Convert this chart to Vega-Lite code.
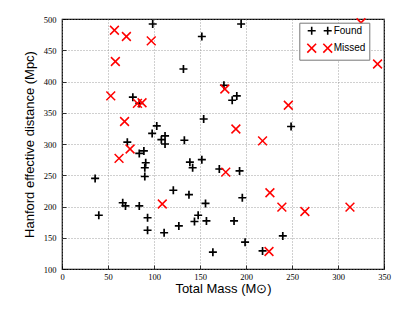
{
  "$schema": "https://vega.github.io/schema/vega-lite/v6.json",
  "autosize": "none",
  "padding": {"left": 62, "top": 19, "right": 31, "bottom": 43},
  "width": 322,
  "height": 250,
  "background": "white",
  "config": {
    "view": {"stroke": "#000", "strokeWidth": 1.2},
    "axis": {
      "domain": false,
      "grid": true,
      "gridColor": "#888",
      "gridDash": [1, 2],
      "gridWidth": 0.8,
      "ticks": true,
      "tickColor": "#000",
      "tickSize": -4,
      "tickWidth": 0.8,
      "labelFont": "Liberation Serif",
      "labelFontSize": 8.5,
      "labelColor": "#000",
      "titleFont": "Liberation Sans",
      "titleFontSize": 13,
      "titleFontWeight": "normal",
      "titleColor": "#000"
    }
  },
  "data": {
    "values": [
      {"mass": 98.6, "dist": 492, "status": "Found"},
      {"mass": 194.7, "dist": 492, "status": "Found"},
      {"mass": 152, "dist": 472, "status": "Found"},
      {"mass": 132, "dist": 420, "status": "Found"},
      {"mass": 77, "dist": 375, "status": "Found"},
      {"mass": 84, "dist": 365, "status": "Found"},
      {"mass": 154, "dist": 340, "status": "Found"},
      {"mass": 103, "dist": 329, "status": "Found"},
      {"mass": 98, "dist": 317, "status": "Found"},
      {"mass": 112, "dist": 313, "status": "Found"},
      {"mass": 108, "dist": 307, "status": "Found"},
      {"mass": 112, "dist": 300, "status": "Found"},
      {"mass": 133, "dist": 306, "status": "Found"},
      {"mass": 71, "dist": 303, "status": "Found"},
      {"mass": 84, "dist": 285, "status": "Found"},
      {"mass": 89, "dist": 289, "status": "Found"},
      {"mass": 91, "dist": 270, "status": "Found"},
      {"mass": 90, "dist": 262, "status": "Found"},
      {"mass": 90, "dist": 248, "status": "Found"},
      {"mass": 36, "dist": 245, "status": "Found"},
      {"mass": 40, "dist": 186, "status": "Found"},
      {"mass": 139, "dist": 271, "status": "Found"},
      {"mass": 142, "dist": 262, "status": "Found"},
      {"mass": 152, "dist": 275, "status": "Found"},
      {"mass": 171, "dist": 260, "status": "Found"},
      {"mass": 193, "dist": 257, "status": "Found"},
      {"mass": 121, "dist": 226, "status": "Found"},
      {"mass": 138, "dist": 219, "status": "Found"},
      {"mass": 156, "dist": 205, "status": "Found"},
      {"mass": 66, "dist": 206, "status": "Found"},
      {"mass": 69, "dist": 201, "status": "Found"},
      {"mass": 84, "dist": 201, "status": "Found"},
      {"mass": 93, "dist": 182, "status": "Found"},
      {"mass": 93, "dist": 162, "status": "Found"},
      {"mass": 111, "dist": 158, "status": "Found"},
      {"mass": 127, "dist": 169, "status": "Found"},
      {"mass": 144, "dist": 176, "status": "Found"},
      {"mass": 148, "dist": 186, "status": "Found"},
      {"mass": 157, "dist": 177, "status": "Found"},
      {"mass": 187, "dist": 177, "status": "Found"},
      {"mass": 196, "dist": 214, "status": "Found"},
      {"mass": 164, "dist": 127, "status": "Found"},
      {"mass": 199, "dist": 143, "status": "Found"},
      {"mass": 218, "dist": 129, "status": "Found"},
      {"mass": 240, "dist": 153, "status": "Found"},
      {"mass": 176, "dist": 394, "status": "Found"},
      {"mass": 185, "dist": 370, "status": "Found"},
      {"mass": 190, "dist": 377, "status": "Found"},
      {"mass": 249, "dist": 328, "status": "Found"},
      {"mass": 57, "dist": 482, "status": "Missed"},
      {"mass": 70, "dist": 472, "status": "Missed"},
      {"mass": 97, "dist": 465, "status": "Missed"},
      {"mass": 58, "dist": 432, "status": "Missed"},
      {"mass": 53, "dist": 377, "status": "Missed"},
      {"mass": 82, "dist": 365, "status": "Missed"},
      {"mass": 87, "dist": 366, "status": "Missed"},
      {"mass": 68, "dist": 336, "status": "Missed"},
      {"mass": 74, "dist": 292, "status": "Missed"},
      {"mass": 62, "dist": 277, "status": "Missed"},
      {"mass": 109, "dist": 204, "status": "Missed"},
      {"mass": 177, "dist": 388, "status": "Missed"},
      {"mass": 246, "dist": 362, "status": "Missed"},
      {"mass": 189, "dist": 324, "status": "Missed"},
      {"mass": 218, "dist": 305, "status": "Missed"},
      {"mass": 178, "dist": 255, "status": "Missed"},
      {"mass": 226, "dist": 222, "status": "Missed"},
      {"mass": 239, "dist": 199, "status": "Missed"},
      {"mass": 264, "dist": 192, "status": "Missed"},
      {"mass": 313, "dist": 199, "status": "Missed"},
      {"mass": 225, "dist": 128, "status": "Missed"},
      {"mass": 325, "dist": 494, "status": "Missed"},
      {"mass": 343, "dist": 428, "status": "Missed"}
    ]
  },
  "encoding": {
    "x": {
      "field": "mass",
      "type": "quantitative",
      "scale": {"domain": [0, 350], "nice": false},
      "axis": {"values": [0, 50, 100, 150, 200, 250, 300, 350], "title": "Total Mass (M⊙)", "labelPadding": 7, "titlePadding": 2, "labelFlush": false}
    },
    "y": {
      "field": "dist",
      "type": "quantitative",
      "scale": {"domain": [100, 500], "nice": false, "zero": false},
      "axis": {"values": [100, 150, 200, 250, 300, 350, 400, 450, 500], "title": "Hanford effective distance (Mpc)", "labelPadding": 10, "titlePadding": 7, "labelFlush": false}
    },
    "color": {
      "field": "status",
      "type": "nominal",
      "scale": {"domain": ["Found", "Missed"], "range": ["#000000", "#ff0000"]},
      "legend": {
        "title": null,
        "orient": "none",
        "legendX": 237.3,
        "legendY": 3.7,
        "padding": 3,
        "strokeColor": "#777",
        "fillColor": "white",
        "cornerRadius": 0,
        "symbolSize": 64,
        "symbolStrokeWidth": 1.6,
        "symbolOffset": 12.4,
        "symbolType": {"expr": "datum.value === 'Found' ? 'M-3,0H-1M-2,-1V1M1,0H3M2,-1V1' : 'M-3.1,-1.1L-0.9,1.1M-3.1,1.1L-0.9,-1.1M0.9,-1.1L3.1,1.1M0.9,1.1L3.1,-1.1'"},
        "labelOffset": 9,
        "labelFont": "Liberation Sans",
        "labelFontSize": 10,
        "labelColor": "#000",
        "rowPadding": 1.5,
        "labelExpr": "datum.label + '\u2003'"
      }
    }
  },
  "layer": [
    {
      "transform": [{"filter": "datum.status === 'Found'"}],
      "mark": {"type": "point", "filled": false, "size": 64, "strokeWidth": 1.7, "opacity": 1, "shape": "M-1,0H1M0,-1V1"}
    },
    {
      "transform": [{"filter": "datum.status === 'Missed'"}],
      "mark": {"type": "point", "filled": false, "size": 64, "strokeWidth": 1.5, "opacity": 1, "shape": "M-1.1,-1.1L1.1,1.1M-1.1,1.1L1.1,-1.1"}
    }
  ]
}
